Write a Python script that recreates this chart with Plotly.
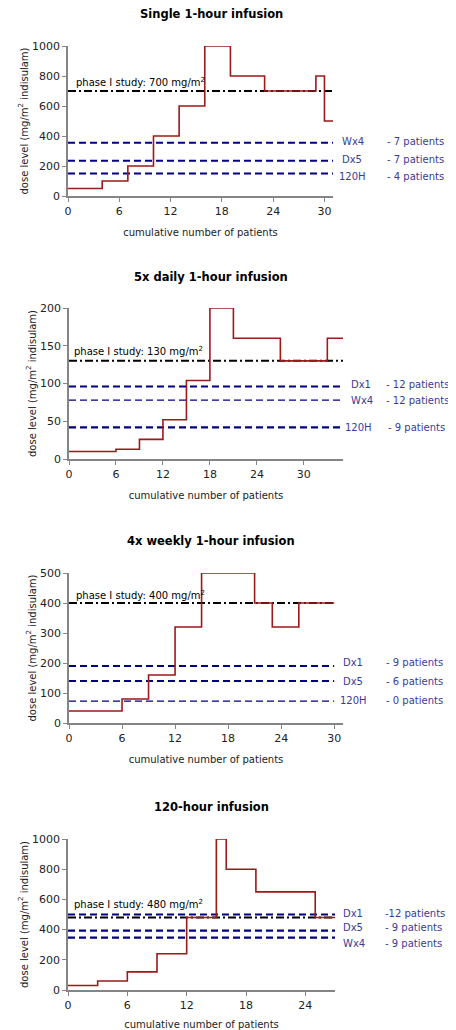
import plotly.graph_objects as go

# ---------------- data ----------------
titles = ["Single 1-hour infusion", "5x daily 1-hour infusion",
          "4x weekly 1-hour infusion", "120-hour infusion"]

# step profiles: patient boundaries and dose level of each step
p1_x = [0, 4, 7, 10, 13, 16, 19, 23, 29, 30, 31]
p1_dose = [50, 100, 200, 400, 600, 1000, 800, 700, 800, 500]

p2_x = [0, 6, 9, 12, 15, 18, 21, 27, 33, 35]
p2_dose = [10, 13, 26, 52, 104, 200, 160, 130, 160]

p3_x = [0, 6, 9, 12, 15, 21, 23, 26, 30]
p3_dose = [40, 80, 160, 320, 500, 400, 320, 400]

p4_x = [0, 3, 6, 9, 12, 15, 16, 19, 25, 27]
p4_dose = [30, 60, 120, 240, 480, 1000, 800, 650, 480]

phase1 = [700, 130, 400, 480]

ref_names = [["Wx4", "Dx5", "120H"], ["Dx1", "Wx4", "120H"],
             ["Dx1", "Dx5", "120H"], ["Dx1", "Dx5", "Wx4"]]
ref_levels = [[355, 235, 150], [96, 78, 42], [190, 140, 73], [500, 393, 347]]
ref_patients = [["- 7 patients", "- 7 patients", "- 4 patients"],
                ["- 12 patients", "- 12 patients", "- 9 patients"],
                ["- 9 patients", "- 6 patients", "- 0 patients"],
                ["-12 patients", "- 9 patients", "- 9 patients"]]
ref_thin = [[False, False, False], [False, True, False],
            [False, False, True], [False, False, False]]

x_ranges = [[0, 31], [0, 35], [0, 31], [0, 27]]
x_line_end = [31, 35, 30, 27]
y_ranges = [[0, 1000], [0, 200], [0, 500], [0, 1000]]
y_dtick = [200, 50, 100, 200]
x_dtick = 6

# ---------------- layout (page pixels) ----------------
PAGE_W, PAGE_H = 456, 1030
OFF = 8                     # default page body margin
W, H = PAGE_W - OFF, PAGE_H - OFF


def px(xp):
    return (xp - OFF) / W


def py(yp):
    return 1 - (yp - OFF) / H


# (left, right, top, bottom) in page pixels for each plot area
boxes = [(68, 333, 46, 196), (69, 343, 308, 459),
         (69, 343, 573, 723), (68, 335, 839, 990)]
title_y = [14, 277, 541, 807]
# label vertical positions (data units) for reference labels
label_y = [[362, 243, 132], [99, 77, 41.5], [201, 138, 76], [509, 411, 310]]
name_px = [[340, 340, 337], [349, 349, 343], [341, 341, 338], [341, 341, 341]]
pat_px = [[385, 385, 385], [384, 384, 386], [384, 384, 384], [383, 383, 383]]
phase_lbl = [(0.7, 757), (0.4, 143), (0.6, 426), (0.4, 569)]

FONT = "DejaVu Sans, Liberation Sans, Arial, sans-serif"
RED = "#9c1a1a"
NAVY = "#000080"
LBL = "#3a3a9a"
AXC = "#858585"

steps = [(p1_x, p1_dose), (p2_x, p2_dose), (p3_x, p3_dose), (p4_x, p4_dose)]

fig = go.Figure()
annotations = []
for i in range(4):
    xa = "x" if i == 0 else f"x{i+1}"
    ya = "y" if i == 0 else f"y{i+1}"
    bx, bd = steps[i]
    xs = list(bx)
    ys = list(bd) + [bd[-1]]
    x0 = x_ranges[i][0]
    xe = x_line_end[i]
    # reference dashed lines
    for j in range(3):
        fig.add_trace(go.Scatter(
            x=[x0, xe], y=[ref_levels[i][j]] * 2, mode="lines",
            line=dict(color=NAVY, width=1.2 if ref_thin[i][j] else 2.2,
                      dash="7px,4px"),
            xaxis=xa, yaxis=ya, showlegend=False, hoverinfo="skip"))
    # phase I line
    fig.add_trace(go.Scatter(
        x=[x0, xe], y=[phase1[i]] * 2, mode="lines",
        line=dict(color="black", width=2, dash="8px,3px,2px,3px"),
        xaxis=xa, yaxis=ya, showlegend=False, hoverinfo="skip"))
    # step dose profile
    fig.add_trace(go.Scatter(
        x=xs, y=ys, mode="lines", line=dict(color=RED, width=1.6, shape="hv"),
        xaxis=xa, yaxis=ya, showlegend=False, cliponaxis=False))

    l, r, t, b = boxes[i]
    dom_x = [px(l), px(r)]
    dom_y = [py(b), py(t)]
    axis_common = dict(showgrid=False, zeroline=False, showline=True,
                       linecolor=AXC, linewidth=1.5, ticks="outside",
                       ticklen=4, tickcolor=AXC, tickwidth=1,
                       automargin=False,
                       tickfont=dict(family=FONT, size=11, color="#222"))
    xkey = "xaxis" if i == 0 else f"xaxis{i+1}"
    ykey = "yaxis" if i == 0 else f"yaxis{i+1}"
    fig.update_layout(**{
        xkey: dict(domain=dom_x, range=x_ranges[i], dtick=x_dtick, tick0=0,
                   anchor=ya,
                   title=dict(text="cumulative number of patients",
                              font=dict(family=FONT, size=10, color="#222"),
                              standoff=12),
                   **axis_common),
        ykey: dict(domain=dom_y, range=y_ranges[i], dtick=y_dtick[i], tick0=0,
                   anchor=xa,
                   title=dict(text="dose level (mg/m<sup>2</sup> indisulam)",
                              font=dict(family=FONT, size=10, color="#222"),
                              standoff=2),
                   **axis_common),
    })
    # title
    annotations.append(dict(
        text=f"<b>{titles[i]}</b>", xref="paper", yref="paper",
        x=px(211), y=py(title_y[i]), showarrow=False,
        xanchor="center", yanchor="middle",
        font=dict(family=FONT, size=11.5, color="black")))
    # phase I label
    annotations.append(dict(
        text=f"phase I study: {phase1[i]} mg/m<sup>2</sup>", xref=xa, yref=ya,
        x=phase_lbl[i][0], y=phase_lbl[i][1], showarrow=False,
        xanchor="left", yanchor="middle",
        font=dict(family=FONT, size=10, color="black")))
    # reference labels
    for j in range(3):
        annotations.append(dict(
            text=ref_names[i][j], xref="paper", yref=ya,
            x=px(name_px[i][j]), y=label_y[i][j], showarrow=False,
            xanchor="left", yanchor="middle",
            font=dict(family=FONT, size=10, color=LBL)))
        annotations.append(dict(
            text=ref_patients[i][j], xref="paper", yref=ya,
            x=px(pat_px[i][j]), y=label_y[i][j], showarrow=False,
            xanchor="left", yanchor="middle",
            font=dict(family=FONT, size=10, color=LBL)))

fig.update_layout(
    width=W, height=H, margin=dict(l=0, r=0, t=0, b=0, autoexpand=False),
    paper_bgcolor="white", plot_bgcolor="white",
    annotations=annotations, showlegend=False,
    font=dict(family=FONT),
)

fig.write_html("out.html")
